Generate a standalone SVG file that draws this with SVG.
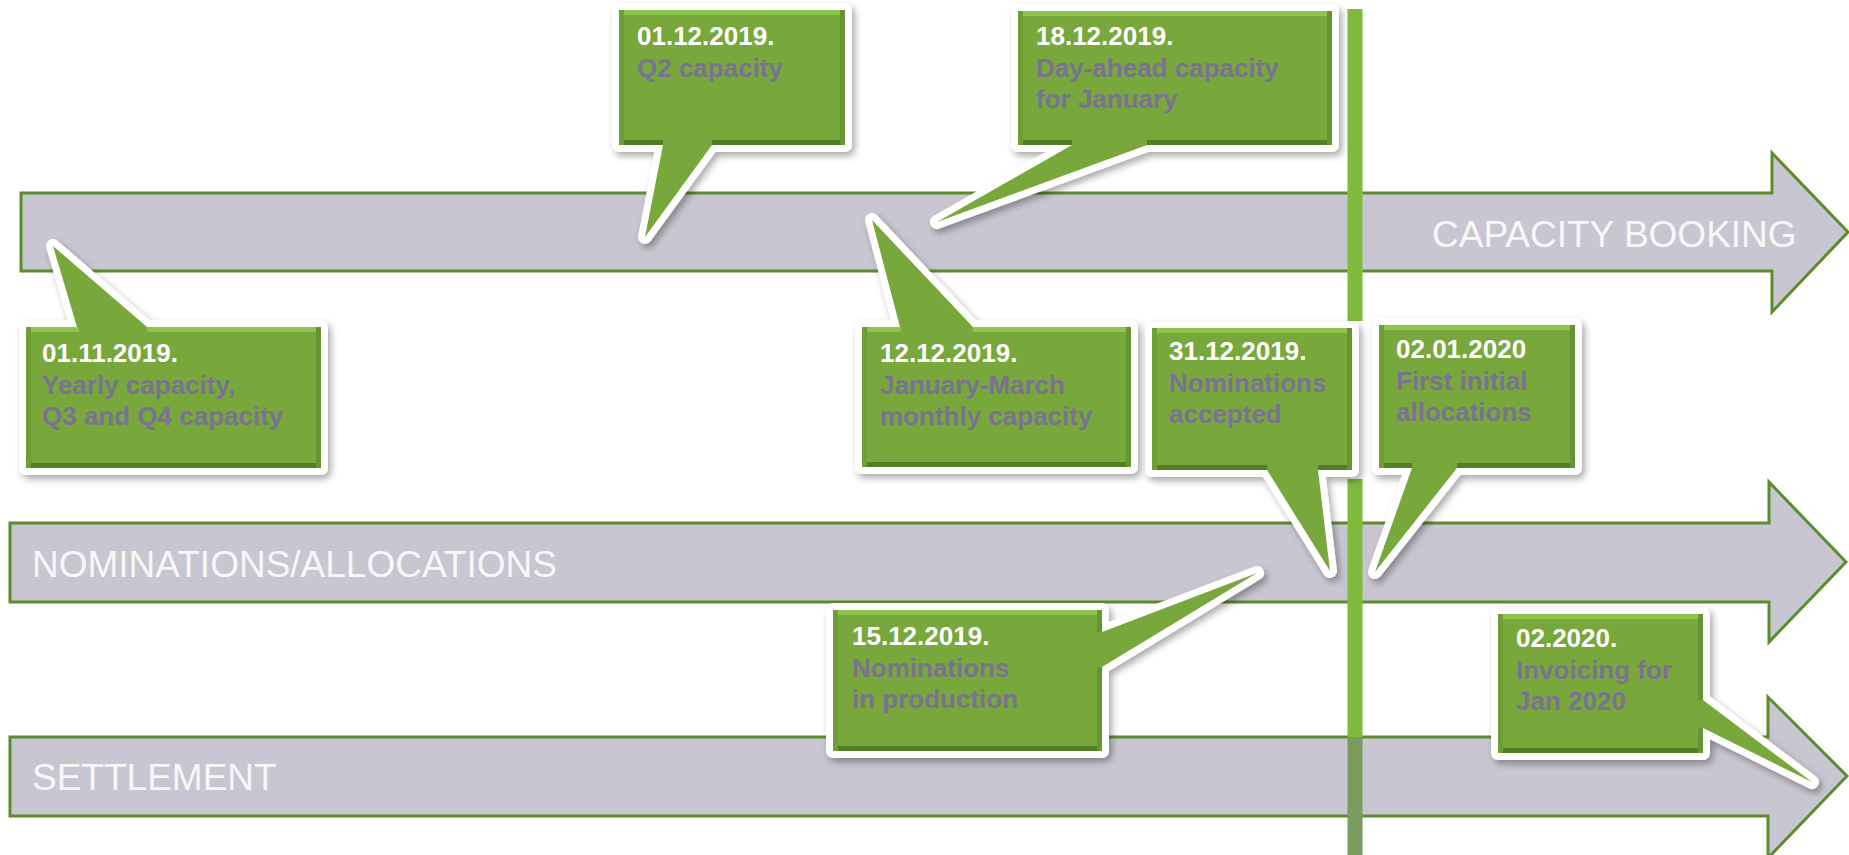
<svg xmlns="http://www.w3.org/2000/svg" width="1849" height="855" viewBox="0 0 1849 855">
<defs>
<filter id="sh" x="-20%" y="-20%" width="140%" height="140%">
<feDropShadow dx="3" dy="4" stdDeviation="3.5" flood-color="#000" flood-opacity="0.33"/>
</filter>
<style>
.bar{fill:#c8c6d0;stroke:#5c8c2c;stroke-width:3}
.barlbl{font-family:"Liberation Sans",Arial,sans-serif;font-size:37px;fill:#f7f7f7}
.co-out{fill:#ffffff;stroke:#ffffff;stroke-width:14;stroke-linejoin:round;filter:url(#sh)}
.co-fill{fill:#78a73b}
.bv-top{fill:none;stroke:#8ec54b;stroke-width:5}
.bv-bot{fill:none;stroke:#517f26;stroke-width:5}
.bv-l{fill:none;stroke:#6e9e35;stroke-width:5}
.bv-r{fill:none;stroke:#679432;stroke-width:5}
.t{font-family:"Liberation Sans",Arial,sans-serif;font-size:26px;font-weight:bold}
.d{fill:#ffffff}
.s{fill:#7a7292}
</style>
</defs>

<g id="bars">
<g id="bar-capacity">
<path class="bar" d="M21,193 H1772 V153 L1848,232 L1772,312 V271 H21 Z"/>
<text class="barlbl" x="1432" y="247">CAPACITY BOOKING</text>
</g>
<g id="bar-nominations">
<path class="bar" d="M10,523 H1769 V482 L1846,562 L1769,642 V602 H10 Z"/>
<text class="barlbl" x="32" y="577">NOMINATIONS/ALLOCATIONS</text>
</g>
<g id="bar-settlement">
<path class="bar" d="M10,737 H1768 V697 L1847,776 L1768,858 V816 H10 Z"/>
<text class="barlbl" x="32" y="790">SETTLEMENT</text>
</g>
</g>

<g id="connectors">
<line x1="1355" y1="9" x2="1355" y2="321" stroke="#7fba3d" stroke-width="15"/>
<line x1="1355" y1="479" x2="1355" y2="737" stroke="#7fba3d" stroke-width="15"/>
<line x1="1355" y1="737" x2="1355" y2="855" stroke="#7b9a5e" stroke-width="15"/>
</g>

<g id="callout-01-11-2019">
<path class="co-out" d="M26,327 H77 L53,246 L147,327 H321 V468 H26 Z"/>
<path class="co-fill" d="M26,327 H77 L53,246 L147,327 H321 V468 H26 Z"/>
<path class="bv-top" d="M26,329.5 H79 M147,329.5 H321"/>
<path class="bv-bot" d="M26,465.5 H321"/>
<path class="bv-l" d="M28.5,327 V468"/>
<path class="bv-r" d="M318.5,327 V468"/>
<text class="t d" x="42" y="362">01.11.2019.</text>
<text class="t s" x="42" y="393.5">Yearly capacity,</text>
<text class="t s" x="42" y="425">Q3 and Q4 capacity</text>
</g>

<g id="callout-01-12-2019">
<path class="co-out" d="M619,10 H845 V145 H712 L645,237 L663,145 H619 Z"/>
<path class="co-fill" d="M619,10 H845 V145 H712 L645,237 L663,145 H619 Z"/>
<path class="bv-top" d="M619,12.5 H845"/>
<path class="bv-bot" d="M619,142.5 H663 M712,142.5 H845"/>
<path class="bv-l" d="M621.5,10 V145"/>
<path class="bv-r" d="M842.5,10 V145"/>
<text class="t d" x="637" y="45">01.12.2019.</text>
<text class="t s" x="637" y="76.5">Q2 capacity</text>
</g>

<g id="callout-18-12-2019">
<path class="co-out" d="M1018,11 H1332 V145 H1147 L937,222 L1072,145 H1018 Z"/>
<path class="co-fill" d="M1018,11 H1332 V145 H1147 L937,222 L1072,145 H1018 Z"/>
<path class="bv-top" d="M1018,13.5 H1332"/>
<path class="bv-bot" d="M1018,142.5 H1072 M1147,142.5 H1332"/>
<path class="bv-l" d="M1020.5,11 V145"/>
<path class="bv-r" d="M1329.5,11 V145"/>
<text class="t d" x="1036" y="45">18.12.2019.</text>
<text class="t s" x="1036" y="76.5">Day-ahead capacity</text>
<text class="t s" x="1036" y="108">for January</text>
</g>

<g id="callout-12-12-2019">
<path class="co-out" d="M862,327 H900 L872,220 L973,327 H1131 V467 H862 Z"/>
<path class="co-fill" d="M862,327 H900 L872,220 L973,327 H1131 V467 H862 Z"/>
<path class="bv-top" d="M862,329.5 H901 M973,329.5 H1131"/>
<path class="bv-bot" d="M862,464.5 H1131"/>
<path class="bv-l" d="M864.5,327 V467"/>
<path class="bv-r" d="M1128.5,327 V467"/>
<text class="t d" x="880" y="362">12.12.2019.</text>
<text class="t s" x="880" y="393.5">January-March</text>
<text class="t s" x="880" y="425">monthly capacity</text>
</g>

<g id="callout-31-12-2019">
<path class="co-out" d="M1152,328 H1352 V470 H1318 L1330,571 L1267,470 H1152 Z"/>
<path class="co-fill" d="M1152,328 H1352 V470 H1318 L1330,571 L1267,470 H1152 Z"/>
<path class="bv-top" d="M1152,330.5 H1352"/>
<path class="bv-bot" d="M1152,467.5 H1267 M1318,467.5 H1352"/>
<path class="bv-l" d="M1154.5,328 V470"/>
<path class="bv-r" d="M1349.5,328 V470"/>
<text class="t d" x="1169" y="360">31.12.2019.</text>
<text class="t s" x="1169" y="391.5">Nominations</text>
<text class="t s" x="1169" y="423">accepted</text>
</g>

<g id="callout-02-01-2020">
<path class="co-out" d="M1379,325 H1575 V468 H1457 L1375,572 L1412,468 H1379 Z"/>
<path class="co-fill" d="M1379,325 H1575 V468 H1457 L1375,572 L1412,468 H1379 Z"/>
<path class="bv-top" d="M1379,327.5 H1575"/>
<path class="bv-bot" d="M1379,465.5 H1412 M1457,465.5 H1575"/>
<path class="bv-l" d="M1381.5,325 V468"/>
<path class="bv-r" d="M1572.5,325 V468"/>
<text class="t d" x="1396" y="358">02.01.2020</text>
<text class="t s" x="1396" y="389.5">First initial</text>
<text class="t s" x="1396" y="421">allocations</text>
</g>

<g id="callout-15-12-2019">
<path class="co-out" d="M833,610 H1102 V632 L1257,573 L1102,667 V751 H833 Z"/>
<path class="co-fill" d="M833,610 H1102 V632 L1257,573 L1102,667 V751 H833 Z"/>
<path class="bv-top" d="M833,612.5 H1102"/>
<path class="bv-bot" d="M833,748.5 H1102"/>
<path class="bv-l" d="M835.5,610 V751"/>
<path class="bv-r" d="M1099.5,610 V632 M1099.5,667 V751"/>
<text class="t d" x="852" y="645">15.12.2019.</text>
<text class="t s" x="852" y="676.5">Nominations</text>
<text class="t s" x="852" y="708">in production</text>
</g>

<g id="callout-02-2020">
<path class="co-out" d="M1498,614 H1703 V700 L1812,782 L1703,728 V753 H1498 Z"/>
<path class="co-fill" d="M1498,614 H1703 V700 L1812,782 L1703,728 V753 H1498 Z"/>
<path class="bv-top" d="M1498,616.5 H1703"/>
<path class="bv-bot" d="M1498,750.5 H1703"/>
<path class="bv-l" d="M1500.5,614 V753"/>
<path class="bv-r" d="M1700.5,614 V700 M1700.5,728 V753"/>
<text class="t d" x="1516" y="647">02.2020.</text>
<text class="t s" x="1516" y="678.5">Invoicing for</text>
<text class="t s" x="1516" y="710">Jan 2020</text>
</g>
</svg>
